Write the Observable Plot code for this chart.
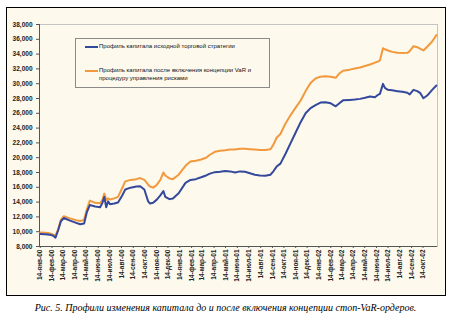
<!DOCTYPE html>
<html>
<head>
<meta charset="utf-8">
<script src="https://cdn.jsdelivr.net/npm/d3@7"></script>
<script src="https://cdn.jsdelivr.net/npm/@observablehq/plot@0.6"></script>
<style>
  html, body { margin: 0; padding: 0; background: #ffffff; }
  #wrap { position: relative; width: 451px; height: 324px; overflow: hidden; }
  #border { position: absolute; left: 6px; top: 7px; width: 438px; height: 287px; border: 1.5px solid #000; background: #FDF9EC; }
  #chart { position: absolute; left: 0; top: 0; }
  #legend { position: absolute; left: 75px; top: 38px; width: 193px; height: 48px; border: 1px solid #8a8a8a; background: #FDF9EC;
            font-family: "Liberation Sans", Arial, sans-serif; font-size: 6px; color: #111; line-height: 7.5px; }
  .row { position: absolute; left: 9px; }
  .sw { position: absolute; left: 0; width: 13px; height: 2px; }
  .lt { position: absolute; left: 14px; white-space: nowrap; }
  #caption { position: absolute; left: 0; width: 451px; top: 302px; text-align: center;
             font-family: "Liberation Serif", "Times New Roman", serif; font-style: italic; font-size: 10px; color: #000; }
</style>
</head>
<body>
<div id="wrap">
  <div id="border"></div>
  <div id="chart"></div>
  <div id="legend"></div>
  <div id="caption"></div>
</div>
<script>
// ---- data ----
const dates = [
  "2000-01-14","2000-01-27","2000-02-08","2000-02-17","2000-02-23","2000-03-01","2000-03-08","2000-03-16",
  "2000-04-01","2000-04-17","2000-04-28","2000-05-08","2000-05-15","2000-05-23","2000-06-06","2000-06-19",
  "2000-06-25","2000-06-30","2000-07-05","2000-07-10","2000-07-15","2000-07-26","2000-08-05","2000-08-16",
  "2000-08-24","2000-09-07","2000-09-22","2000-10-02","2000-10-13","2000-10-18","2000-10-23","2000-10-28",
  "2000-11-05","2000-11-14","2000-11-24","2000-12-02","2000-12-07","2000-12-18","2000-12-27","2001-01-11",
  "2001-01-29","2001-02-11","2001-02-25","2001-03-11","2001-03-24","2001-04-03","2001-04-16","2001-04-30",
  "2001-05-13","2001-05-26","2001-06-08","2001-06-21","2001-07-04","2001-07-17","2001-07-30","2001-08-12",
  "2001-08-26","2001-09-09","2001-09-17","2001-09-25","2001-10-05","2001-10-18","2001-10-31","2001-11-13",
  "2001-11-27","2001-12-10","2001-12-23","2002-01-05","2002-01-18","2002-01-31","2002-02-14","2002-02-27",
  "2002-03-07","2002-03-18","2002-04-05","2002-04-18","2002-05-02","2002-05-15","2002-05-28","2002-06-10",
  "2002-06-18","2002-06-23","2002-07-01","2002-07-06","2002-07-14","2002-07-25","2002-08-08","2002-08-21",
  "2002-09-03","2002-09-09","2002-09-19","2002-09-29","2002-10-07","2002-10-15","2002-10-25","2002-11-07",
  "2002-11-18"
];
const baseProfile = [
  9700, 9650, 9600, 9450, 9200, 10200, 11400, 11850,
  11500, 11200, 11000, 11100, 12600, 13600, 13400, 13300,
  13900, 14700, 13300, 14100, 13700, 13800, 13950, 14900,
  15700, 15950, 16100, 16150, 15700, 14900, 14100, 13800,
  13900, 14300, 14900, 15500, 14700, 14400, 14500, 15200,
  16600, 17000, 17100, 17350, 17600, 17850, 18050, 18100,
  18200, 18150, 18000, 18150, 18100, 17900, 17700, 17600,
  17550, 17700, 18200, 18800, 19200, 20500, 21900, 23300,
  24800, 26000, 26700, 27100, 27450, 27500, 27350, 26950,
  27300, 27750, 27800, 27850, 27950, 28100, 28270, 28180,
  28500, 28630, 29980, 29440, 29170, 29100, 28990, 28900,
  28770, 28550, 29170, 28990, 28720, 28040, 28400, 29170,
  29750
];
const varProfile = [
  9900, 9850, 9780, 9600, 9450, 10400, 11600, 12100,
  11800, 11550, 11450, 11600, 13000, 14200, 13900, 13850,
  14300, 15150, 14300, 14500, 14350, 14500, 14700, 15900,
  16800, 17000, 17100, 17250, 17000, 16700, 16350, 16100,
  15950, 16300, 17000, 18000, 17600, 17200, 17100, 17700,
  18900, 19500, 19600, 19750, 20000, 20400, 20800, 20950,
  21000, 21100, 21100, 21200, 21200, 21150, 21100, 21050,
  21050, 21150, 21800, 22700, 23200, 24600, 25700, 26700,
  27730, 29000, 30100, 30700, 30950, 31000, 30950, 30800,
  31300, 31750, 31900, 32050, 32200, 32400, 32600, 32850,
  33000, 33150, 34800, 34650, 34490, 34300, 34170, 34150,
  34170, 34400, 35070, 34930, 34700, 34490, 35000, 35700,
  36560
];
const seriesNames = [
  "Профиль капитала исходной торговой стратегии",
  "Профиль капитала после включения концепции VaR и процедуру управления рисками"
];
const seriesColors = ["#34489C", "#F2993D"];
const monthNames = ["янв","фев","мар","апр","май","июн","июл","авг","сен","окт","ноя","дек"];
const yTicks = d3.range(8000, 38001, 2000);
const xTickStart = "2000-01-14", xTickEnd = "2002-10-14";
const xDomain = ["2000-01-12", "2002-11-21"];
const captionText = "Рис. 5. Профили изменения капитала до и после включения концепции стоп-VaR-ордеров.";

// ---- build ----
const baseData = dates.map((d, i) => ({date: new Date(d), value: baseProfile[i]}));
const varData = dates.map((d, i) => ({date: new Date(d), value: varProfile[i]}));
const xTicks = d3.utcMonth.range(new Date("2000-01-01"), new Date("2002-11-01")).map(d => new Date(Date.UTC(d.getUTCFullYear(), d.getUTCMonth(), 14)));
const fmtX = d => `14-${monthNames[d.getUTCMonth()]}-${String(d.getUTCFullYear() % 100).padStart(2, "0")}`;
const d0 = new Date(xDomain[0]), d1 = new Date(xDomain[1]);

const chart = Plot.plot({
  width: 451, height: 298,
  marginLeft: 39, marginRight: 14, marginTop: 24, marginBottom: 52,
  style: {background: "transparent", fontFamily: "'Liberation Sans', Arial, sans-serif", fontSize: "6.5px", fontWeight: "bold", color: "#222"},
  x: {type: "utc", domain: [d0, d1]},
  y: {domain: [8000, 38000]},
  marks: [
    Plot.frame({stroke: "#c4c4c4"}),
    Plot.axisY({ticks: yTicks, tickFormat: d3.format(","), tickSize: 3, tickPadding: 4, label: null, stroke: "#555"}),
    Plot.axisX({ticks: xTicks, tickFormat: fmtX, tickRotate: -90, tickSize: 2, tickPadding: 1, label: null, stroke: "#555"}),
    Plot.ruleX([d0], {stroke: "#555"}),
    Plot.ruleY([8000], {stroke: "#555"}),
    Plot.line(varData, {x: "date", y: "value", stroke: seriesColors[1], strokeWidth: 2}),
    Plot.line(baseData, {x: "date", y: "value", stroke: seriesColors[0], strokeWidth: 2})
  ]
});
document.getElementById("chart").appendChild(chart);

// legend
const lg = document.getElementById("legend");
lg.innerHTML = `
  <div class="row" style="top:4px"><div class="sw" style="top:3px;background:${seriesColors[0]}"></div><div class="lt">${seriesNames[0]}</div></div>
  <div class="row" style="top:28px"><div class="sw" style="top:3px;background:${seriesColors[1]}"></div><div class="lt">Профиль капитала после включения концепции VaR и<br>процедуру управления рисками</div></div>`;
document.getElementById("caption").textContent = captionText;
</script>
</body>
</html>
